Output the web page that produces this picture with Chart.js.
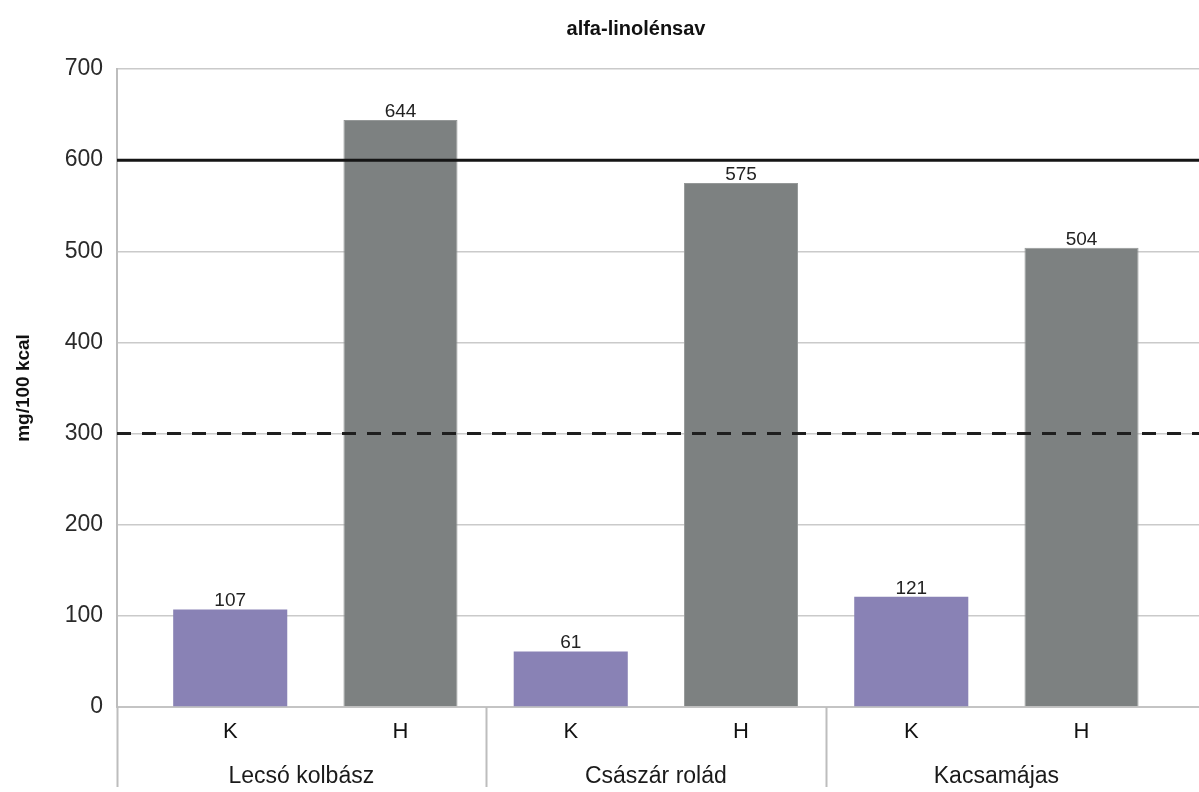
<!DOCTYPE html>
<html lang="hu">
<head>
<meta charset="utf-8">
<title>alfa-linolénsav</title>
<script src="https://cdn.jsdelivr.net/npm/chart.js@4.4.1/dist/chart.umd.min.js"></script>
<style>
  html, body { margin: 0; padding: 0; background: #ffffff; }
  #wrap { width: 1199px; height: 792px; }
</style>
</head>
<body>
<div id="wrap"><canvas id="chart" width="1199" height="792"></canvas></div>
<script>
// Products (groups) and the two samples per product
const groups = ['Lecsó kolbász', 'Császár rolád', 'Kacsamájas'];
const sampleLabels = ['K', 'H'];
// alfa-linolénsav content, mg/100 kcal
const kValues = [107, 61, 121];
const hValues = [644, 575, 504];
// Reference levels
const upperReference = 600;
const lowerReference = 300;
// Y axis ticks
const yTicks = [0, 100, 200, 300, 400, 500, 600, 700];

const titleText = 'alfa-linolénsav';
const yTitleText = 'mg/100 kcal';

const FONT = "'Liberation Sans', Arial, Helvetica, sans-serif";
const X_MIN = -0.665;
const X_MAX = 5.69;

// each product takes two slots on the x axis: K then H
const kPoints = kValues.map((v, g) => ({ x: g * 2, y: v }));
const hPoints = hValues.map((v, g) => ({ x: g * 2 + 1, y: v }));
const slotLabels = groups.flatMap(() => sampleLabels);

const headerPlugin = {
  id: 'header',
  afterDraw(chart) {
    const ctx = chart.ctx;
    ctx.save();
    ctx.fillStyle = '#111';
    ctx.font = 'bold 20px ' + FONT;
    ctx.textAlign = 'center';
    ctx.textBaseline = 'middle';
    ctx.fillText(titleText, 636, 29);
    ctx.restore();
  }
};

// group separators and product names under the K/H labels
const groupAxisPlugin = {
  id: 'groupAxis',
  afterDraw(chart) {
    const ctx = chart.ctx;
    const xs = chart.scales.x;
    const area = chart.chartArea;
    const bottom = area.bottom;
    ctx.save();
    ctx.strokeStyle = '#bdbdbd';
    ctx.lineWidth = 2;
    const edges = [area.left];
    for (let g = 1; g < groups.length; g++) edges.push(xs.getPixelForValue(g * 2 - 0.5));
    edges.push(xs.getPixelForValue(groups.length * 2 - 0.5));
    for (let i = 0; i < groups.length; i++) {
      const px = Math.round(edges[i]) + 0.5;
      ctx.beginPath();
      ctx.moveTo(px, bottom);
      ctx.lineTo(px, bottom + 80);
      ctx.stroke();
    }
    ctx.fillStyle = '#1a1a1a';
    ctx.font = '23px ' + FONT;
    ctx.textAlign = 'center';
    ctx.textBaseline = 'middle';
    groups.forEach((name, g) => {
      ctx.fillText(name, (edges[g] + edges[g + 1]) / 2, bottom + 70);
    });
    ctx.restore();
  }
};

// value labels on top of every bar
const valueLabelPlugin = {
  id: 'valueLabels',
  afterDatasetsDraw(chart) {
    const ctx = chart.ctx;
    ctx.save();
    ctx.fillStyle = '#222';
    ctx.font = '19px ' + FONT;
    ctx.textAlign = 'center';
    ctx.textBaseline = 'alphabetic';
    chart.data.datasets.forEach((ds, di) => {
      if (ds.type !== 'bar') return;
      const meta = chart.getDatasetMeta(di);
      meta.data.forEach((bar, i) => {
        ctx.fillText(String(ds.data[i].y), bar.x, bar.y - 3);
      });
    });
    ctx.restore();
  }
};

new Chart(document.getElementById('chart'), {
  data: {
    datasets: [
      {
        type: 'line',
        label: 'upper',
        data: [{ x: X_MIN, y: upperReference }, { x: X_MAX, y: upperReference }],
        borderColor: '#151515',
        borderWidth: 3,
        pointRadius: 0,
        order: 0
      },
      {
        type: 'line',
        label: 'lower',
        data: [{ x: X_MIN, y: lowerReference }, { x: X_MAX, y: lowerReference }],
        borderColor: '#1e1e1e',
        borderWidth: 3,
        borderDash: [14, 11],
        pointRadius: 0,
        order: 0
      },
      {
        type: 'bar',
        label: 'K',
        data: kPoints,
        backgroundColor: '#8982b5',
        borderColor: '#8982b5',
        borderWidth: 0,
        grouped: false,
        categoryPercentage: 1,
        barPercentage: 0.67,
        order: 1
      },
      {
        type: 'bar',
        label: 'H',
        data: hPoints,
        backgroundColor: '#7d8181',
        borderColor: '#959898',
        borderWidth: 1,
        grouped: false,
        categoryPercentage: 1,
        barPercentage: 0.67,
        order: 1
      }
    ]
  },
  options: {
    responsive: false,
    animation: false,
    devicePixelRatio: 1,
    layout: { padding: { top: 69, left: 0, right: 0, bottom: 0 } },
    plugins: {
      legend: { display: false },
      title: { display: false },
      tooltip: { enabled: false }
    },
    scales: {
      x: {
        type: 'linear',
        min: X_MIN,
        max: X_MAX,
        offset: false,
        afterBuildTicks(scale) {
          scale.ticks = slotLabels.map((_, i) => ({ value: i }));
        },
        afterFit(scale) { scale.height = 85; },
        grid: { display: false, drawTicks: false, offset: false },
        border: { display: true, color: '#c4c4c4', width: 2 },
        ticks: {
          autoSkip: false,
          maxRotation: 0,
          padding: 12,
          color: '#111',
          font: { family: FONT, size: 22 },
          callback: (value) => slotLabels[value] ?? ''
        }
      },
      y: {
        min: 0,
        max: 700,
        afterBuildTicks(scale) {
          scale.ticks = yTicks.map(v => ({ value: v }));
        },
        afterFit(scale) { scale.width = 117; },
        grid: { color: '#cacaca', lineWidth: 1.5, drawTicks: false },
        border: { display: true, color: '#bdbdbd', width: 2 },
        ticks: {
          padding: 14,
          color: '#2a2a2a',
          font: { family: FONT, size: 23 }
        },
        title: {
          display: true,
          text: yTitleText,
          color: '#111',
          font: { family: FONT, size: 19, weight: 'bold' },
          padding: { top: 12, bottom: 0 }
        }
      }
    }
  },
  plugins: [headerPlugin, groupAxisPlugin, valueLabelPlugin]
});
</script>
</body>
</html>
